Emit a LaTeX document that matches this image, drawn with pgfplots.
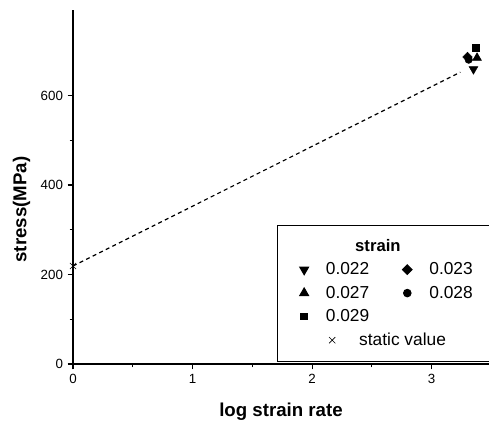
\documentclass[border=0pt]{standalone}
\usepackage{fontspec}
\setmainfont{Liberation Sans}
\usepackage{pgfplots}
\pgfplotsset{compat=1.18}

\begin{document}
\begin{tikzpicture}
\begin{axis}[
    name=ax,
    scale only axis,
    width=312pt,
    height=265.5pt,
    xmin=0, xmax=3.48,
    ymin=0, ymax=791,
    axis lines=left,
    axis line style={-, line width=1pt},
    xtick={0,1,2,3},
    ytick={0,200,400,600},
    minor tick num=1,
    tick align=outside,
    major tick length=4pt,
    minor tick length=2.5pt,
    every tick/.style={black, line width=0.8pt},
    /pgf/number format/assume math mode=true,
    tick label style={font=\fontsize{10}{12}\selectfont},
    xlabel={\textbf{log strain rate}},
    ylabel={\textbf{stress(MPa)}},
    label style={font=\fontsize{14}{16}\selectfont},
    xlabel style={yshift=-8pt},
    ylabel style={yshift=1pt, xshift=-17pt},
    legend columns=2,
    legend cell align=left,
    legend image code/.code={\draw[mark repeat=2,mark phase=2] plot coordinates {(0cm,0cm)(0.3cm,0cm)(0.4cm,0cm)};},
    legend style={
        at={(axis cs:1.707,4.5)}, anchor=south west,
        draw=black, line width=0.8pt,
        font=\fontsize{13}{15}\selectfont,
        inner xsep=11pt, inner ysep=8.5pt,
        row sep=3pt,
        /tikz/every odd column/.append style={column sep=11pt},
        /tikz/every even column/.append style={column sep=18pt},
    },
]

\addlegendimage{empty legend}
\addlegendentry{\makebox[0pt][l]{\hspace{22pt}\fontsize{12.5}{15}\selectfont\textbf{strain}}}
\addlegendimage{empty legend}
\addlegendentry{}

% dashed fit line
\addplot[black, line width=0.9pt, dash pattern=on 3pt off 2.5pt, forget plot]
    coordinates {(0,219) (3.24,652)};

\addplot[only marks, mark=triangle*, mark size=3.8pt, mark options={rotate=180, black}, black]
    coordinates {(3.35,659)};
\addlegendentry{0.022}
\addplot[only marks, mark=square*, mark size=2.5pt, mark options={rotate=45, black}, black]
    coordinates {(3.30,686)};
\addlegendentry{\makebox[50pt][l]{0.023}}
\addplot[only marks, mark=triangle*, mark size=3.8pt, black]
    coordinates {(3.38,684)};
\addlegendentry{0.027}
\addplot[only marks, mark=*, mark size=2.8pt, black]
    coordinates {(3.31,680)};
\addlegendentry{\makebox[50pt][l]{0.028}}
\addplot[only marks, mark=square*, mark size=2.5pt, black]
    coordinates {(3.37,706)};
\addlegendentry{0.029}

\addlegendimage{empty legend}
\addlegendentry{}

\addplot[only marks, mark=x, mark size=3.3pt, mark options={line width=0.5pt}, black,
    legend image code/.code={%
        \begin{pgfinterruptboundingbox}
        \draw plot coordinates {(0.3cm+21pt,0cm)};
        \end{pgfinterruptboundingbox}
        \path (0cm,0cm) (0.4cm,0cm);}]
    coordinates {(0,219)};
\addlegendentry{\makebox[0pt][l]{\hspace{25pt}static value}}

\end{axis}
\pgfresetboundingbox
\path[use as bounding box] ([shift={(-54.75pt,-46.5pt)}]ax.south west) rectangle ([shift={(312pt,273pt)}]ax.south west);
\end{tikzpicture}
\end{document}
